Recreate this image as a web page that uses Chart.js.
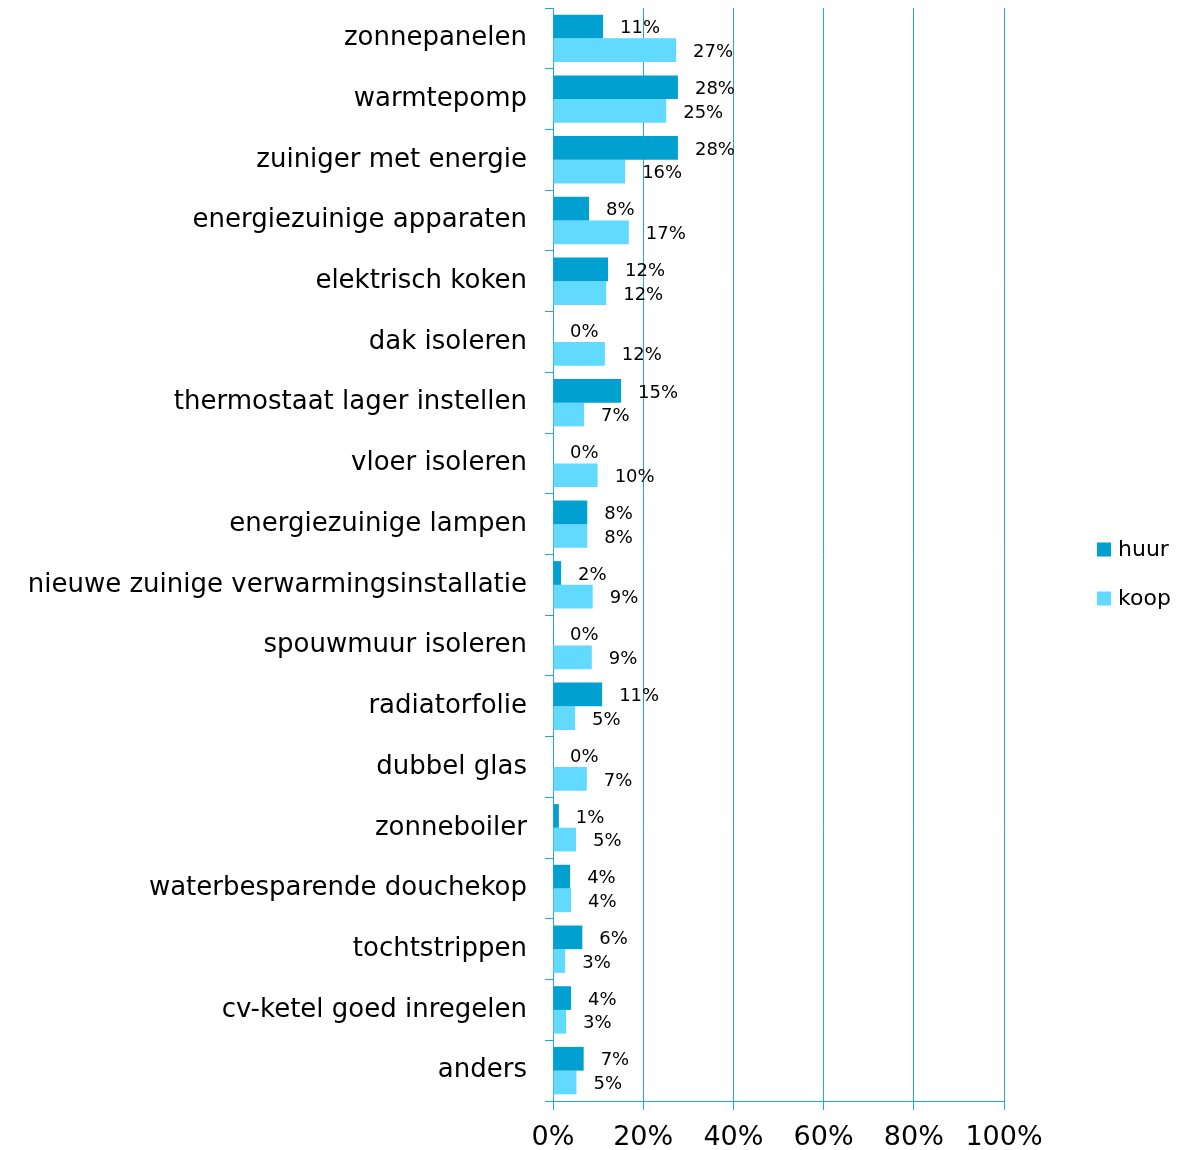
<!DOCTYPE html>
<html>
<head>
<meta charset="utf-8">
<script src="https://cdn.jsdelivr.net/npm/chart.js@4/dist/chart.umd.min.js"></script>
<style>
  body { margin: 0; background: #fff; }
  #wrap { width: 1192px; height: 1150px; }
</style>
</head>
<body>
<div id="wrap"><canvas id="chart"></canvas></div>
<script>
const categories = [
  'zonnepanelen', 'warmtepomp', 'zuiniger met energie', 'energiezuinige apparaten',
  'elektrisch koken', 'dak isoleren', 'thermostaat lager instellen', 'vloer isoleren',
  'energiezuinige lampen', 'nieuwe zuinige verwarmingsinstallatie', 'spouwmuur isoleren',
  'radiatorfolie', 'dubbel glas', 'zonneboiler', 'waterbesparende douchekop',
  'tochtstrippen', 'cv-ketel goed inregelen', 'anders'
];
const huur = [11.1, 27.7, 27.7, 8.0, 12.2, 0, 15.1, 0, 7.6, 1.8, 0, 10.9, 0, 1.3, 3.8, 6.5, 4.0, 6.8];
const koop = [27.3, 25.1, 16.0, 16.8, 11.8, 11.5, 6.9, 9.9, 7.6, 8.8, 8.6, 4.9, 7.5, 5.1, 4.0, 2.7, 2.9, 5.2];
const huurLabels = [11, 28, 28, 8, 12, 0, 15, 0, 8, 2, 0, 11, 0, 1, 4, 6, 4, 7];
const koopLabels = [27, 25, 16, 17, 12, 12, 7, 10, 8, 9, 9, 5, 7, 5, 4, 3, 3, 5];
const xTicks = [0, 20, 40, 60, 80, 100];

const gridBlue = '#24a8d7';
const font = 'DejaVu Sans';

// value text next to the bars, plus the legend on the right
const valueLabels = {
  id: 'valueLabels',
  afterDatasetsDraw(chart) {
    const ctx = chart.ctx;
    const lists = [huurLabels, koopLabels];
    ctx.save();
    ctx.font = '18px "' + font + '"';
    ctx.fillStyle = '#000';
    ctx.textAlign = 'left';
    ctx.textBaseline = 'middle';
    chart.data.datasets.forEach((ds, i) => {
      chart.getDatasetMeta(i).data.forEach((bar, j) => {
        ctx.fillText(lists[i][j] + '%', bar.x + 17, bar.y + 2);
      });
    });

    // legend
    const midY = (chart.chartArea.top + chart.chartArea.bottom) / 2;
    ctx.font = '22px "' + font + '"';
    chart.data.datasets.forEach((ds, i) => {
      const y = midY - 5 + i * 49;
      ctx.fillStyle = ds.backgroundColor;
      ctx.fillRect(1097, y - 7, 14, 14);
      ctx.fillStyle = '#000';
      ctx.fillText(ds.label, 1118, y + 1);
    });
    ctx.restore();
  }
};

new Chart(document.getElementById('chart'), {
  type: 'bar',
  data: {
    labels: categories,
    datasets: [
      { label: 'huur', data: huur, backgroundColor: '#00a0d1' },
      { label: 'koop', data: koop, backgroundColor: '#62d9ff' }
    ]
  },
  options: {
    indexAxis: 'y',
    responsive: true,
    maintainAspectRatio: false,
    animation: false,
    categoryPercentage: 0.78,
    barPercentage: 1,
    layout: { padding: { top: 8, left: 0, right: 188, bottom: 0 } },
    plugins: {
      tooltip: { enabled: false },
      legend: { display: false }
    },
    scales: {
      x: {
        min: 0,
        max: 100,
        afterBuildTicks(axis) { axis.ticks = xTicks.map(v => ({ value: v })); },
        afterFit(axis) { axis.height = 49; },
        grid: { color: gridBlue, lineWidth: 1, tickLength: 9, tickColor: gridBlue },
        border: { color: gridBlue, width: 1 },
        ticks: {
          color: '#000',
          padding: 12,
          maxRotation: 0,
          font: { family: font, size: 27 },
          callback: v => v + '%'
        }
      },
      y: {
        afterFit(axis) {
          axis.width = 553;
          axis.paddingTop = 0;
          axis.paddingBottom = 0;
        },
        grid: { drawOnChartArea: false, offset: true, tickLength: 8, tickColor: gridBlue },
        border: { color: gridBlue, width: 1 },
        ticks: {
          color: '#000',
          padding: 18,
          font: { family: font, size: 26 }
        }
      }
    }
  },
  plugins: [valueLabels]
});
</script>
</body>
</html>
